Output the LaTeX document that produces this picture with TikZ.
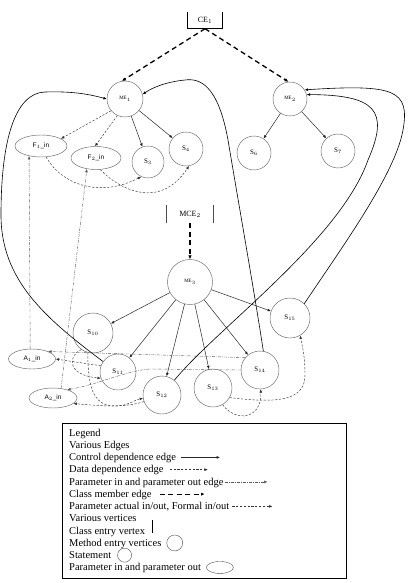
\documentclass[tikz,border=0pt]{standalone}
\usepackage{fontspec}
\setmainfont{Liberation Serif}
\newfontfamily\lsans{Liberation Sans}
\usetikzlibrary{arrows.meta,shapes.geometric}
\begin{document}
\begin{tikzpicture}[x=1pt,y=-1pt,
  >={Latex[length=3.4pt,width=2.8pt]},
  vtx/.style={circle,draw=black!60,line width=0.45pt,inner sep=0pt,font=\fontsize{7}{8}\selectfont},
  mev/.style={vtx,font=\fontsize{5}{6}\selectfont},
  pel/.style={ellipse,draw=black!60,line width=0.45pt,inner sep=0pt,font=\lsans\fontsize{6.5}{7}\selectfont},
  ctrl/.style={->,line width=0.5pt,black!85},
  cdep/.style={->,line width=0.6pt},
  ddep/.style={->,line width=0.45pt,black!80,dash pattern=on 2.2pt off 1.6pt},
  pio/.style={->,line width=0.4pt,black!65,dash pattern=on 3pt off 1.2pt on 0.7pt off 1.2pt},
  cmem/.style={->,line width=1.3pt,dash pattern=on 5pt off 3.5pt,>={Latex[length=4pt,width=3.6pt]}},
  lt/.style={anchor=base west,inner sep=0pt,font=\fontsize{10.5}{12}\selectfont},
  cev/.style={inner sep=0pt,font=\fontsize{8}{9}\selectfont}]
\useasboundingbox (0,0) rectangle (411,583);

% class entry vertices
\node[cev,minimum width=34pt,minimum height=16pt] (ce1) at (205,20.5) {CE$_1$};
\draw[line width=0.7pt] (ce1.north west) -- (ce1.south west) -- (ce1.south east) -- (ce1.north east);
\node[cev,minimum width=46pt,minimum height=18pt] (mce2) at (190,214) {MCE$_2$};
\draw[line width=0.7pt,black!70] (mce2.north west) -- (mce2.south west);
\draw[line width=0.7pt,black!70] (mce2.north east) -- (mce2.south east);

% method entry vertices and statements
\node[mev,minimum size=36pt] (me1) at (125,99) {ME$_1$};
\node[mev,minimum size=34pt] (me2) at (290,99) {ME$_2$};
\node[mev,minimum size=45pt] (me3) at (190,282) {ME$_3$};
\node[vtx,minimum size=32pt] (s3) at (148,162) {S$_3$};
\node[vtx,minimum size=34pt] (s4) at (186,149) {S$_4$};
\node[vtx,minimum size=34pt] (s6) at (254,153) {S$_6$};
\node[vtx,minimum size=34pt] (s7) at (338,151) {S$_7$};
\node[vtx,minimum size=40pt] (s10) at (93,333) {S$_{10}$};
\node[vtx,minimum size=36pt] (s11) at (118,372) {S$_{11}$};
\node[vtx,minimum size=38pt] (s12) at (162,395) {S$_{12}$};
\node[vtx,minimum size=38pt] (s13) at (213,388) {S$_{13}$};
\node[vtx,minimum size=38pt] (s14) at (260,370) {S$_{14}$};
\node[vtx,minimum size=40pt] (s15) at (290,318) {S$_{15}$};

% parameter vertices
\node[pel,minimum width=52pt,minimum height=22pt] (fin) at (41,146) {F$_1$\_in};
\node[pel,minimum width=50pt,minimum height=23pt] (f2in) at (96,158) {F$_2$\_in};
\node[pel,minimum width=47pt,minimum height=20pt] (a1) at (32,359) {A$_1$\_in};
\node[pel,minimum width=48pt,minimum height=20pt] (a2) at (53,398) {A$_2$\_in};

% class member edges
\draw[cmem] (ce1.south) -- (me1.100);
\draw[cmem] (ce1.south) -- (me2.95);
\draw[cmem] (mce2.south) -- (me3.north);

% control dependence edges
\draw[ctrl] (me1) -- (s3);
\draw[ctrl] (me1) -- (s4);
\draw[ctrl] (me2) -- (s6);
\draw[ctrl] (me2) -- (s7);
\foreach \t in {s10,s11,s12,s13,s14,s15} \draw[ctrl] (me3) -- (\t);

% call edges (long curves)
\draw[cdep] (s11.145) .. controls (45,318) and (1,280) .. (1,215) .. controls (1,140) and (15,93) .. (45,92) .. controls (75,91) and (92,95) .. (me1.west);
\draw[cdep] (s14.80) .. controls (254,290) and (238,200) .. (228,140) .. controls (218,85) and (200,78) .. (185,80) .. controls (165,82) and (152,88) .. (me1.15);
\draw[cdep] (s12.50) .. controls (215,330) and (340,240) .. (368,160) .. controls (390,110) and (375,95) .. (me2.15);
\draw[cdep] (s15.45) .. controls (340,250) and (395,175) .. (403,130) .. controls (410,90) and (395,84) .. (me2.32);

% data dependence edges
\draw[ddep] (me1.220) -- (fin.20);
\draw[ddep] (me1.245) -- (f2in.95);
\draw[ddep] (fin.295) .. controls (62,185) and (100,198) .. (s3.245);
\draw[ddep] (f2in.290) .. controls (120,190) and (160,210) .. (s4.280);
\draw[ddep] (s11.160) -- (a1.east);
\draw[ddep] (s10.235) .. controls (68,355) and (66,375) .. (s11.200);
\draw[ddep] (s10.255) .. controls (88,385) and (92,406) .. (115,406) .. controls (128,406) and (134,400) .. (s12.190);
\draw[ddep] (s12.200) .. controls (125,408) and (100,406) .. (a2.-15);
\draw[ddep] (s13.330) .. controls (275,403) and (305,402) .. (305,375) .. controls (305,355) and (302,345) .. (s15.300);
\draw[ddep] (s13.300) .. controls (235,422) and (262,420) .. (s14.272);

% parameter in / out edges
\draw[pio] (a1.100) -- (fin.220);
\draw[pio] (a2.50) -- (f2in.230);
\draw[pio] (s14.140) -- (a1.25);
\draw[pio] (s14.180) -- (150,369) .. controls (125,371) and (100,384) .. (a2.30);

% legend
\node[draw,line width=0.7pt,minimum width=284pt,minimum height=155pt,anchor=north west,inner sep=0pt] (legbox) at (62,423) {};
\node[lt] (l1) at (69,436.2) {Legend};
\node[lt] (l2) at (69,448.45) {Various Edges};
\node[lt] (l3) at (69,460.7) {Control dependence edge};
\node[lt] (l4) at (69,472.95) {Data dependence edge};
\node[lt] (l5) at (69,485.2) {Parameter in and parameter out edge};
\node[lt] (l6) at (69,497.45) {Class member edge};
\node[lt] (l7) at (69,509.7) {Parameter actual in/out, Formal in/out};
\node[lt] (l8) at (69,521.95) {Various vertices};
\node[lt] (l9) at (69,534.2) {Class entry vertex};
\node[lt] (l10) at (69,546.45) {Method entry vertices};
\node[lt] (l11) at (69,558.7) {Statement};
\node[lt] (l12) at (69,570.95) {Parameter in and parameter out};

\draw[ctrl,line width=0.6pt] ([shift={(5pt,3.3pt)}]l3.base east) -- ++(39pt,0pt);
\draw[ddep] ([shift={(6pt,3.3pt)}]l4.base east) -- ++(38pt,0pt);
\draw[pio] ([shift={(1pt,3.3pt)}]l5.base east) -- ++(43pt,0pt);
\draw[cmem,line width=1pt,>={Latex[length=3.6pt,width=3.2pt]}] ([shift={(8pt,3.3pt)}]l6.base east) -- ++(45pt,0pt);
\draw[ddep] ([shift={(3pt,3.3pt)}]l7.base east) -- ++(40pt,0pt);
\draw[line width=0.7pt] ([shift={(7pt,14pt)}]l9.base east) -- ++(0pt,-12.5pt);
\node[circle,draw=black!70,line width=0.4pt,minimum size=16pt,inner sep=0pt,anchor=west] (lme) at ([shift={(5pt,3.5pt)}]l10.base east) {};
\node[circle,draw=black!70,line width=0.4pt,minimum size=14pt,inner sep=0pt,anchor=west] (lst) at ([shift={(6pt,3.5pt)}]l11.base east) {};
\node[ellipse,draw=black!70,line width=0.4pt,minimum width=27pt,minimum height=12pt,inner sep=0pt,anchor=west] (lpe) at ([shift={(5pt,3.5pt)}]l12.base east) {};
\end{tikzpicture}
\end{document}
